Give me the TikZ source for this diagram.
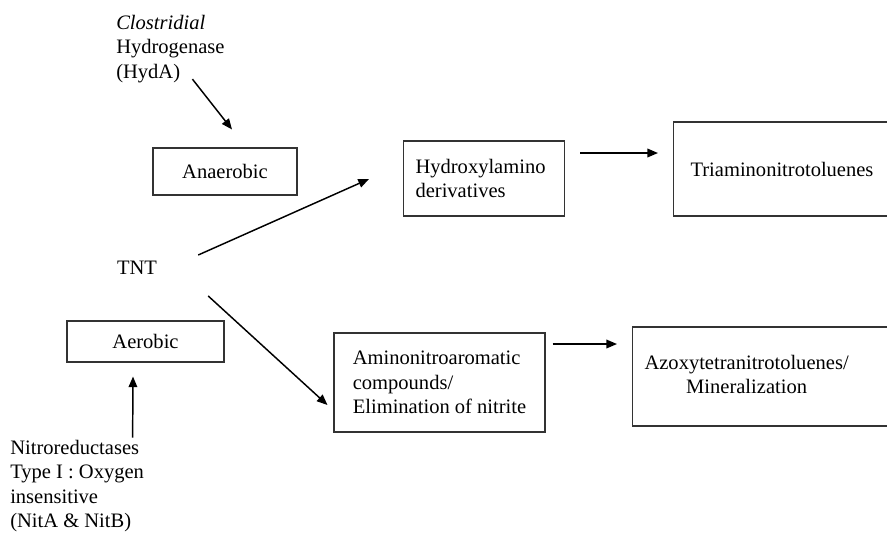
\documentclass[tikz,border=0pt]{standalone}
\usepackage{fontspec}
\setmainfont{Liberation Serif}
\usetikzlibrary{arrows.meta,calc}

\begin{document}
\begin{tikzpicture}[x=0.75pt,y=-0.75pt,
  every node/.style={font=\fontsize{15.4}{18.4}\selectfont},
  box/.style={draw=black!80, line width=0.8pt, inner sep=0pt},
  lbl/.style={inner sep=0pt, align=left},
  arr/.style={line width=1.1pt, -{Triangle[length=8pt,width=6.5pt]}}]
  \useasboundingbox (0,0) rectangle (887,533);
  \clip (0,0) rectangle (887,533);
  % Enzymes and conditions
  \node[lbl, anchor=west] (hyda) at (116,49) {\textit{Clostridial}\\Hydrogenase\\(HydA)};
  \node[box, minimum width=108pt, minimum height=35.25pt] (anaer) at (225,171.5) {Anaerobic};
  \node[inner sep=0pt] (tnt) at (137,268) {TNT};
  \node[box, minimum width=117.75pt, minimum height=30.75pt] (aer) at (145.5,341.5) {Aerobic};
  \node[lbl, anchor=west] (nitro) at (10,486) {Nitroreductases\\Type I : Oxygen\\insensitive\\(NitA \& NitB)};
  % Products
  \node[box, anchor=west, inner xsep=9pt, text width=102.75pt, align=left, minimum height=56.25pt] (hydrox) at (403,178.5) {Hydroxylamino\\derivatives};
  \node[box, anchor=west, inner xsep=12.75pt, text width=180pt, align=left, minimum height=70.5pt] (triam) at (673,169) {Triaminonitrotoluenes};
  \node[box, align=left, minimum width=158.25pt, minimum height=74.25pt] (amino) at (439.5,382.5) {Aminonitroaromatic\\compounds/\\Elimination of nitrite};
  \node[box, anchor=west, inner xsep=9pt, text width=195pt, align=left, minimum height=74.25pt] (azoxy) at (632,376.5) {\begin{tabular}{@{}c@{}}Azoxytetranitrotoluenes/\\Mineralization\end{tabular}};
  % Arrows
  \draw[arr] ($(hyda.south)+(22,-4)$) -- ($(anaer.north)+(7,-18)$);
  \draw[arr] ($(nitro.north)+(55.5,-2)$) -- ($(aer.south)+(-12.5,14)$);
  \draw[arr] ($(tnt.east)+(41,-13)$) -- ($(hydrox.west)+(-34,0.5)$);
  \draw[arr] ($(tnt.east)+(51,28)$) -- ($(amino.west)+(-6,22.5)$);
  \draw[arr] ($(hydrox.east)+(15,-25.5)$) -- ($(triam.west)+(-15,-16)$);
  \draw[arr] ($(amino.east)+(7,-38.5)$) -- ($(azoxy.west)+(-15,-32.5)$);
\end{tikzpicture}
\end{document}
